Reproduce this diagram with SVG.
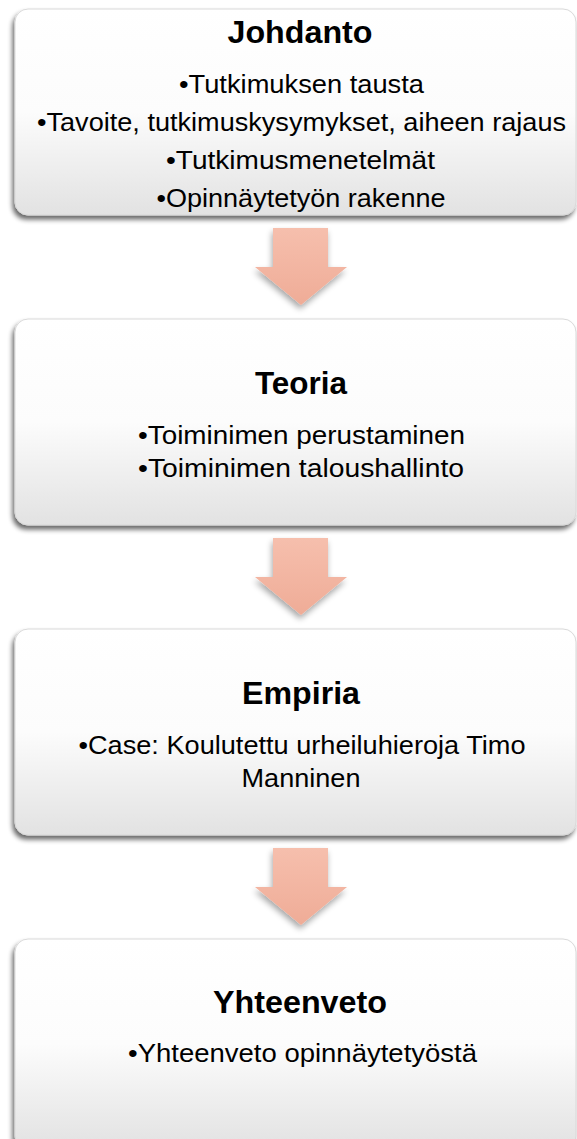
<svg xmlns="http://www.w3.org/2000/svg" width="577" height="1139" viewBox="0 0 577 1139">
<defs>
<linearGradient id="boxg" x1="0" y1="0" x2="0" y2="1">
<stop offset="0" stop-color="#ffffff"/>
<stop offset="0.5" stop-color="#fcfcfc"/>
<stop offset="1" stop-color="#e2e2e2"/>
</linearGradient>
<linearGradient id="arrg" x1="0" y1="0" x2="0" y2="1">
<stop offset="0" stop-color="#f6bfad"/>
<stop offset="1" stop-color="#efac97"/>
</linearGradient>
<filter id="sh" x="-10%" y="-10%" width="120%" height="130%">
<feGaussianBlur in="SourceAlpha" stdDeviation="2.5"/>
<feOffset dx="-2" dy="4" result="b"/>
<feComponentTransfer><feFuncA type="linear" slope="0.6"/></feComponentTransfer>
<feMerge><feMergeNode/><feMergeNode in="SourceGraphic"/></feMerge>
</filter>
<filter id="ash" x="-20%" y="-20%" width="140%" height="150%">
<feGaussianBlur in="SourceAlpha" stdDeviation="3"/>
<feOffset dx="-1" dy="4"/>
<feComponentTransfer><feFuncA type="linear" slope="0.35"/></feComponentTransfer>
<feMerge><feMergeNode/><feMergeNode in="SourceGraphic"/></feMerge>
</filter>
</defs>
<style>
.box{fill:url(#boxg);stroke:#d9d9d9;stroke-width:1;filter:url(#sh)}
.t{font-family:"Liberation Sans",Arial,sans-serif;font-weight:bold;font-size:32px;fill:#000;text-anchor:middle}
.b{font-family:"Liberation Sans",Arial,sans-serif;font-size:26px;fill:#000;text-anchor:middle}
.arr{fill:url(#arrg);filter:url(#ash)}
</style>
<rect width="577" height="1139" fill="#ffffff"/>
<g id="connectors">
<polygon class="arr" points="273,228 328,228 328,267 347,267 301,305 255,267 273,267"/>
<polygon class="arr" points="273,538 328,538 328,577 347,577 301,615 255,577 273,577"/>
<polygon class="arr" points="273,848 328,848 328,887 347,887 301,925 255,887 273,887"/>
</g>
<g id="johdanto">
<rect class="box" x="15" y="9" width="561" height="206" rx="13"/>
<text class="t" x="300" y="43" textLength="145" lengthAdjust="spacingAndGlyphs">Johdanto</text>
<text class="b" x="301.5" y="93" textLength="245" lengthAdjust="spacingAndGlyphs">•Tutkimuksen tausta</text>
<text class="b" x="301.5" y="131" textLength="529" lengthAdjust="spacingAndGlyphs">•Tavoite, tutkimuskysymykset, aiheen rajaus</text>
<text class="b" x="300.5" y="169" textLength="269" lengthAdjust="spacingAndGlyphs">•Tutkimusmenetelmät</text>
<text class="b" x="301" y="207" textLength="289" lengthAdjust="spacingAndGlyphs">•Opinnäytetyön rakenne</text>
</g>
<g id="teoria">
<rect class="box" x="15" y="319" width="561" height="206" rx="13"/>
<text class="t" x="301" y="394" textLength="92" lengthAdjust="spacingAndGlyphs">Teoria</text>
<text class="b" x="301.5" y="444" textLength="327" lengthAdjust="spacingAndGlyphs">•Toiminimen perustaminen</text>
<text class="b" x="301" y="477" textLength="326" lengthAdjust="spacingAndGlyphs">•Toiminimen taloushallinto</text>
</g>
<g id="empiria">
<rect class="box" x="15" y="629" width="561" height="206" rx="13"/>
<text class="t" x="301" y="704" textLength="118" lengthAdjust="spacingAndGlyphs">Empiria</text>
<text class="b" x="302" y="754" textLength="447" lengthAdjust="spacingAndGlyphs">•Case: Koulutettu urheiluhieroja Timo</text>
<text class="b" x="301" y="787" textLength="119" lengthAdjust="spacingAndGlyphs">Manninen</text>
</g>
<g id="yhteenveto">
<rect class="box" x="15" y="939" width="561" height="210" rx="13"/>
<text class="t" x="300" y="1013" textLength="174" lengthAdjust="spacingAndGlyphs">Yhteenveto</text>
<text class="b" x="302.5" y="1062" textLength="349" lengthAdjust="spacingAndGlyphs">•Yhteenveto opinnäytetyöstä</text>
</g>
</svg>
